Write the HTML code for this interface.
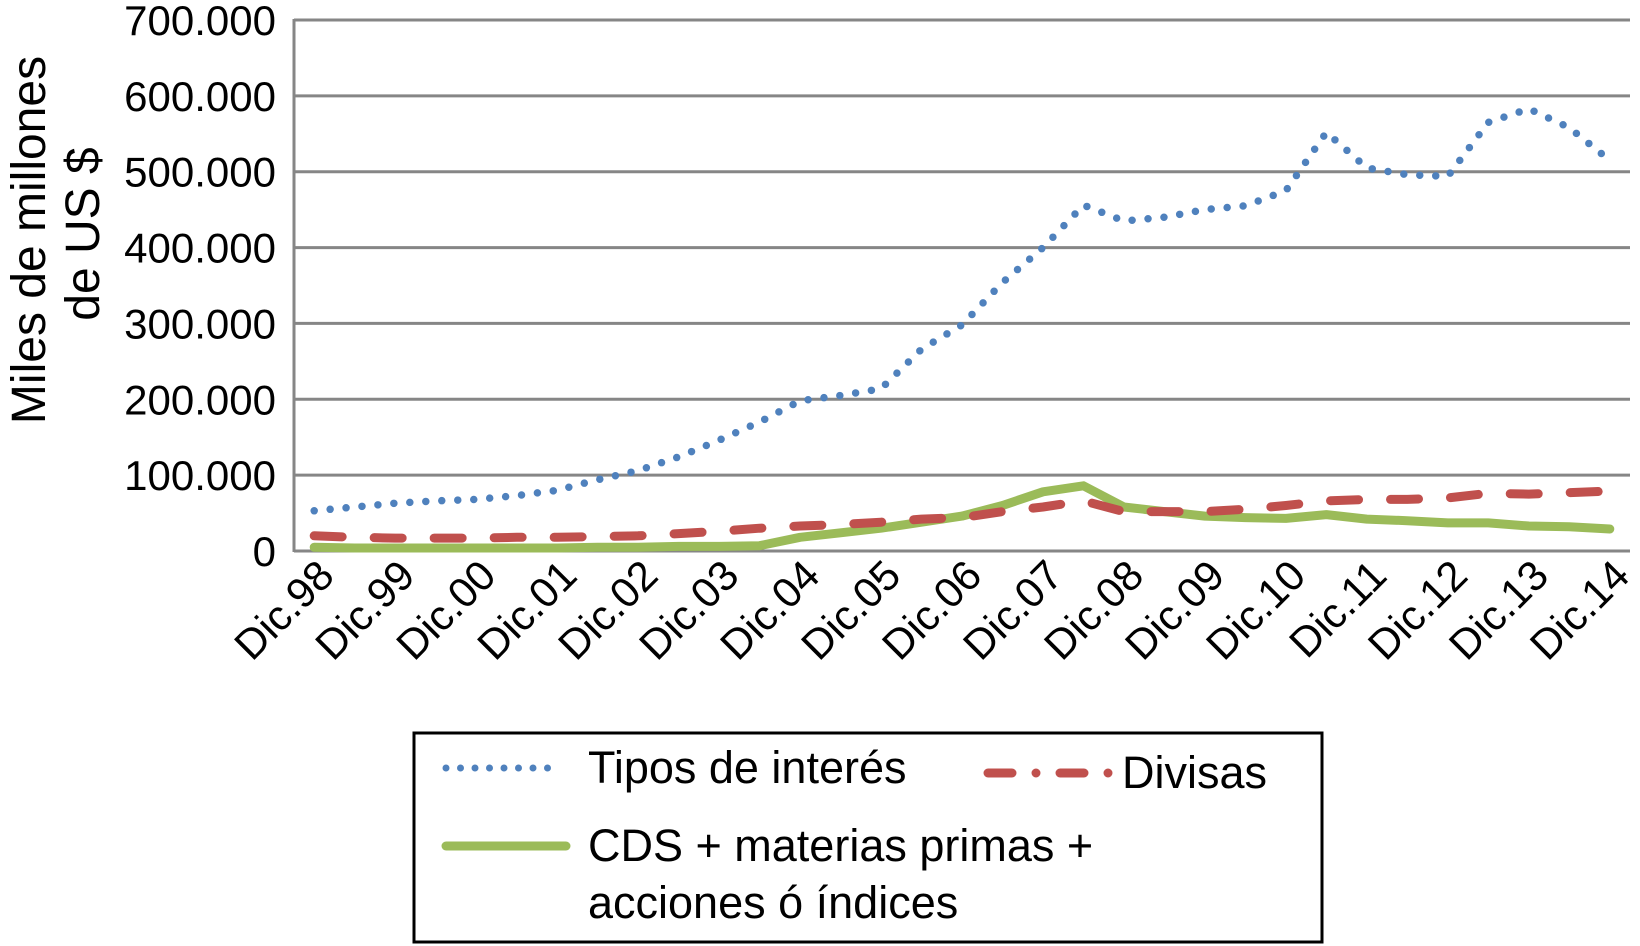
<!DOCTYPE html>
<html><head><meta charset="utf-8"><style>
html,body{margin:0;padding:0;background:#fff;}
svg{display:block;font-family:"Liberation Sans",Arial,sans-serif;}
</style></head><body>
<svg id="chart" width="1640" height="946" viewBox="0 0 1640 946" xmlns="http://www.w3.org/2000/svg">
<g id="grid"></g>
<g id="yticks"></g>
<g id="xticks"></g>
<g id="series"></g>
<g font-size="48" fill="#000" text-anchor="middle">
  <text transform="translate(45,240) rotate(-90)">Miles de millones</text>
  <text transform="translate(99,234) rotate(-90)">de US $</text>
</g>
<g>
  <rect x="414" y="733" width="908" height="209" fill="#fff" stroke="#000" stroke-width="3"/>
  <g>
    <line x1="446" y1="768" x2="562" y2="768" stroke="#4f81bd" stroke-width="7" stroke-linecap="round" stroke-dasharray="0 14.5"/>
    <text x="588" y="783" font-size="45">Tipos de interés</text>
  </g>
  <g>
    <line x1="988" y1="773" x2="1111" y2="773" stroke="#c0504d" stroke-width="9" stroke-linecap="round" stroke-dasharray="24 24 0 24"/>
    <text x="1122" y="788" font-size="45">Divisas</text>
  </g>
  <g>
    <line x1="446" y1="846" x2="566" y2="846" stroke="#9bbb59" stroke-width="9" stroke-linecap="round"/>
    <text x="588" y="861" font-size="45">CDS + materias primas +</text>
    <text x="588" y="918" font-size="45">acciones ó índices</text>
  </g>
</g>
</svg>
<script>
const labels = ["Dic.98","Dic.99","Dic.00","Dic.01","Dic.02","Dic.03","Dic.04","Dic.05","Dic.06","Dic.07","Dic.08","Dic.09","Dic.10","Dic.11","Dic.12","Dic.13","Dic.14"];
const yTicks = [0,100000,200000,300000,400000,500000,600000,700000];
const yTickLabels = ["0","100.000","200.000","300.000","400.000","500.000","600.000","700.000"];
const tipos = [53,58,63,66,68,73,80,94,106,124,146,170,198,205,214,266,298,354,400,456,435,440,450,455,475,552,505,496,494,565,583,558,515];
const divisas = [20,18,17,17,17,18,18,19,20,23,26,30,33,35,38,42,44,52,58,66,52,52,52,55,60,66,68,68,70,76,75,77,79];
const cds = [5,4,4,4,4,4,4,5,5,6,6,7,18,24,30,38,46,60,78,86,58,52,46,44,43,48,42,40,37,37,33,32,29];

const NS="http://www.w3.org/2000/svg";
const L=294,R=1630,T=20,B=551,N=33;
const step=(R-L)/N;
function xPos(i){return L+step*(i+0.5);}
function yPos(v){return B-(v/700000)*(B-T);}
function mk(tag,attrs,parent){const e=document.createElementNS(NS,tag);for(const k in attrs)e.setAttribute(k,attrs[k]);parent.appendChild(e);return e;}

const grid=document.getElementById('grid');
yTicks.forEach((t,i)=>{
  const ln=mk('line',{x1:L,x2:R,y1:yPos(t),y2:yPos(t),stroke:'#868686','stroke-width':3},grid);
  
  
  const tx=mk('text',{x:276,y:yPos(t)+15,'font-size':42,'text-anchor':'end',fill:'#000'},document.getElementById('yticks'));
  tx.textContent=yTickLabels[i];
  
  
});
const ax=mk('line',{x1:L,x2:L,y1:T-1,y2:B+1,stroke:'#868686','stroke-width':3},grid);



const xt=document.getElementById('xticks');
labels.forEach((lb,j)=>{
  const x=xPos(j*2)+22,y=578;
  const tx=mk('text',{x:0,y:0,'font-size':42,'text-anchor':'end',fill:'#000',transform:`translate(${x},${y}) rotate(-45)`},xt);
  tx.textContent=lb;
  
  
});

function pts(arr){return arr.map((v,i)=>xPos(i).toFixed(1)+','+yPos(v*1000).toFixed(1)).join(' ');}
const sg=document.getElementById('series');
const g1=mk('polyline',{points:pts(cds),fill:'none',stroke:'#9bbb59','stroke-width':9,'stroke-linejoin':'round','stroke-linecap':'round'},sg);


const g2=mk('polyline',{points:pts(divisas),fill:'none',stroke:'#c0504d','stroke-width':9,'stroke-linejoin':'round','stroke-linecap':'round','stroke-dasharray':'28 32'},sg);


const g3=mk('polyline',{points:pts(tipos),fill:'none',stroke:'#4f81bd','stroke-width':7.5,'stroke-linejoin':'round','stroke-linecap':'round','stroke-dasharray':'0 16'},sg);


</script>
</body></html>
